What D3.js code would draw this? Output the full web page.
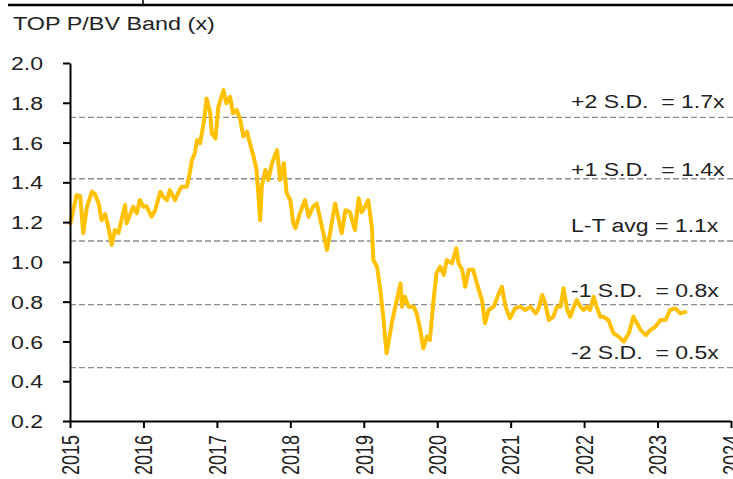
<!DOCTYPE html>
<html lang="en">

<head>
  <meta charset="UTF-8">
  <title>TOP P/BV Band</title>
  <style>
    body { margin: 0; background: #fff; }
    svg { display: block; font-family: "Liberation Sans", Arial, sans-serif; }
    .lbl { white-space: pre; }
  </style>
</head>

<body>

  <div id="chart"></div>

  <script src="https://cdnjs.cloudflare.com/ajax/libs/d3/7.8.5/d3.min.js"></script>

  <script>

    // time in decimal years, value = P/BV (x)
    const years = [
      2015.00, 2015.09, 2015.14, 2015.18, 2015.23, 2015.30, 2015.34, 2015.39, 2015.43, 2015.48,
      2015.52, 2015.57, 2015.61, 2015.66, 2015.70, 2015.75, 2015.77, 2015.82, 2015.86, 2015.91,
      2015.95, 2016.00, 2016.04, 2016.11, 2016.16, 2016.23, 2016.27, 2016.32, 2016.36, 2016.43,
      2016.48, 2016.52, 2016.59, 2016.63, 2016.66, 2016.70, 2016.73, 2016.77, 2016.82, 2016.86,
      2016.91, 2016.93, 2016.98, 2017.02, 2017.09, 2017.13, 2017.18, 2017.22, 2017.27, 2017.32,
      2017.36, 2017.41, 2017.45, 2017.50, 2017.54, 2017.59, 2017.61, 2017.66, 2017.70, 2017.75,
      2017.82, 2017.86, 2017.91, 2017.95, 2018.00, 2018.04, 2018.07, 2018.13, 2018.20, 2018.25,
      2018.31, 2018.36, 2018.41, 2018.45, 2018.50, 2018.54, 2018.61, 2018.66, 2018.70, 2018.75,
      2018.81, 2018.88, 2018.93, 2018.97, 2019.02, 2019.06, 2019.11, 2019.13, 2019.18, 2019.22,
      2019.27, 2019.31, 2019.34, 2019.38, 2019.43, 2019.50, 2019.52, 2019.56, 2019.61, 2019.68,
      2019.72, 2019.77, 2019.81, 2019.86, 2019.90, 2019.95, 2019.99, 2020.04, 2020.09, 2020.13,
      2020.20, 2020.26, 2020.29, 2020.34, 2020.38, 2020.43, 2020.49, 2020.54, 2020.61, 2020.65,
      2020.70, 2020.77, 2020.84, 2020.88, 2020.93, 2020.99, 2021.06, 2021.13, 2021.20, 2021.27,
      2021.34, 2021.38, 2021.43, 2021.47, 2021.52, 2021.58, 2021.63, 2021.68, 2021.72, 2021.77,
      2021.81, 2021.86, 2021.90, 2021.95, 2021.99, 2022.04, 2022.08, 2022.13, 2022.17, 2022.22,
      2022.26, 2022.33, 2022.40, 2022.47, 2022.54, 2022.61, 2022.67, 2022.72, 2022.77, 2022.84,
      2022.90, 2022.97, 2023.04, 2023.11, 2023.17, 2023.24, 2023.31, 2023.40
    ]
    const pbv = [
      1.185, 1.336, 1.330, 1.144, 1.277, 1.353, 1.340, 1.294, 1.210, 1.240,
      1.177, 1.085, 1.160, 1.145, 1.210, 1.286, 1.194, 1.240, 1.277, 1.244,
      1.311, 1.277, 1.280, 1.227, 1.260, 1.353, 1.328, 1.310, 1.361, 1.310,
      1.353, 1.378, 1.378, 1.445, 1.512, 1.546, 1.613, 1.596, 1.697, 1.822,
      1.747, 1.646, 1.621, 1.780, 1.864, 1.797, 1.830, 1.747, 1.764, 1.713,
      1.630, 1.655, 1.596, 1.529, 1.462, 1.210, 1.378, 1.462, 1.412, 1.496,
      1.562, 1.412, 1.496, 1.345, 1.310, 1.194, 1.169, 1.244, 1.311, 1.227,
      1.277, 1.294, 1.210, 1.144, 1.060, 1.144, 1.294, 1.210, 1.144, 1.260,
      1.250, 1.160, 1.320, 1.250, 1.280, 1.310, 1.177, 1.009, 0.976, 0.875,
      0.708, 0.540, 0.600, 0.691, 0.775, 0.892, 0.775, 0.825, 0.775, 0.775,
      0.741, 0.657, 0.565, 0.624, 0.607, 0.808, 0.943, 0.976, 0.935, 1.009,
      0.993, 1.068, 0.993, 0.960, 0.875, 0.960, 0.960, 0.892, 0.808, 0.691,
      0.758, 0.775, 0.842, 0.875, 0.775, 0.716, 0.766, 0.775, 0.758, 0.775,
      0.741, 0.766, 0.833, 0.792, 0.708, 0.724, 0.775, 0.775, 0.867, 0.758,
      0.724, 0.775, 0.808, 0.775, 0.758, 0.775, 0.758, 0.825, 0.775, 0.724,
      0.724, 0.708, 0.641, 0.624, 0.599, 0.641, 0.724, 0.691, 0.657, 0.632,
      0.657, 0.674, 0.708, 0.708, 0.758, 0.766, 0.741, 0.750
    ]

    // band lines
    const bandValues = [1.727, 1.418, 1.105, 0.785, 0.468]
    const bandLabels = ["+2 S.D.  = 1.7x", "+1 S.D.  = 1.4x", "L-T avg = 1.1x", "-1 S.D.  = 0.8x", "-2 S.D.  = 0.5x"]

    // ticks
    const yTicks = [0.2, 0.4, 0.6, 0.8, 1.0, 1.2, 1.4, 1.6, 1.8, 2.0]
    const xTicks = [2015, 2016, 2017, 2018, 2019, 2020, 2021, 2022, 2023, 2024]

    const title = "TOP P/BV Band (x)"

    const W = 733, H = 479
    const STRETCH = 1.28   // the picture's text is wider than normal
    const FONT = 18

    const svg = d3.select("#chart").append("svg")
      .attr("width", W)
      .attr("height", H)

    const x = d3.scaleLinear().domain([2015, 2024]).range([70, 731])
    const y = d3.scaleLinear().domain([0.2, 2.0]).range([421, 63])

    // top rule
    svg.append("line")
      .attr("x1", 8).attr("x2", W)
      .attr("y1", 5).attr("y2", 5)
      .attr("stroke", "#000")
      .attr("stroke-width", 2.5)
    svg.append("line")
      .attr("x1", 143).attr("x2", 143)
      .attr("y1", 0).attr("y2", 5)
      .attr("stroke", "#000")
      .attr("stroke-width", 1.5)

    // title
    svg.append("text")
      .attr("transform", `translate(13, 30) scale(${STRETCH + 0.02}, 1)`)
      .attr("font-size", FONT)
      .attr("fill", "#222")
      .text(title)

    // band lines
    svg.append("g")
      .selectAll("line")
      .data(bandValues)
      .enter()
      .append("line")
      .attr("x1", 70)
      .attr("x2", W)
      .attr("y1", d => y(d))
      .attr("y2", d => y(d))
      .attr("stroke", "#8c8c8c")
      .attr("stroke-width", 1.3)
      .attr("stroke-dasharray", "6,3")

    // band labels (the +1 one sits close to its line)
    const nudge = [-9, -3, -9, -8, -9]
    svg.append("g")
      .selectAll("text")
      .data(bandLabels)
      .enter()
      .append("text")
      .attr("class", "lbl")
      .attr("transform", (d, i) => `translate(571, ${y(bandValues[i]) + nudge[i]}) scale(${STRETCH}, 1)`)
      .attr("font-size", FONT)
      .attr("fill", "#222")
      .text(d => d)

    // price line
    const line = d3.line()
      .x((d, i) => x(years[i]))
      .y(d => y(d))

    svg.append("path")
      .datum(pbv)
      .attr("d", line)
      .attr("fill", "none")
      .attr("stroke", "#FFC000")
      .attr("stroke-width", 4)
      .attr("stroke-linejoin", "round")

    // y axis
    const yAxis = d3.axisLeft(y)
      .tickValues(yTicks)
      .tickFormat(d3.format(".1f"))
      .tickSize(7)
      .tickSizeOuter(0)

    const gy = svg.append("g")
      .attr("transform", "translate(70, 0)")
      .call(yAxis)
    gy.select(".domain").attr("stroke-width", 2)
    gy.selectAll(".tick line").attr("stroke-width", 2)
    gy.selectAll("text")
      .attr("font-size", FONT)
      .attr("font-family", "\"Liberation Sans\", Arial, sans-serif")
      .attr("fill", "#222")
      .attr("x", -27 / STRETCH)
      .attr("dy", "0.37em")
      .attr("transform", `scale(${STRETCH}, 1)`)

    // x axis
    const xAxis = d3.axisBottom(x)
      .tickValues(xTicks)
      .tickFormat(d3.format("d"))
      .tickSize(7)
      .tickSizeOuter(0)

    const gx = svg.append("g")
      .attr("transform", "translate(0, 421)")
      .call(xAxis)
    gx.select(".domain").attr("stroke-width", 2)
    gx.selectAll(".tick line").attr("stroke-width", 2)
    gx.selectAll("text")
      .attr("font-size", FONT)
      .attr("font-family", "\"Liberation Sans\", Arial, sans-serif")
      .attr("fill", "#222")
      .attr("x", 0)
      .attr("y", 0)
      .attr("dy", "0.36em")
      .attr("text-anchor", "end")
      .attr("transform", `translate(0, 14) scale(${STRETCH}, 1) rotate(-90)`)

  </script>

</body>

</html>
